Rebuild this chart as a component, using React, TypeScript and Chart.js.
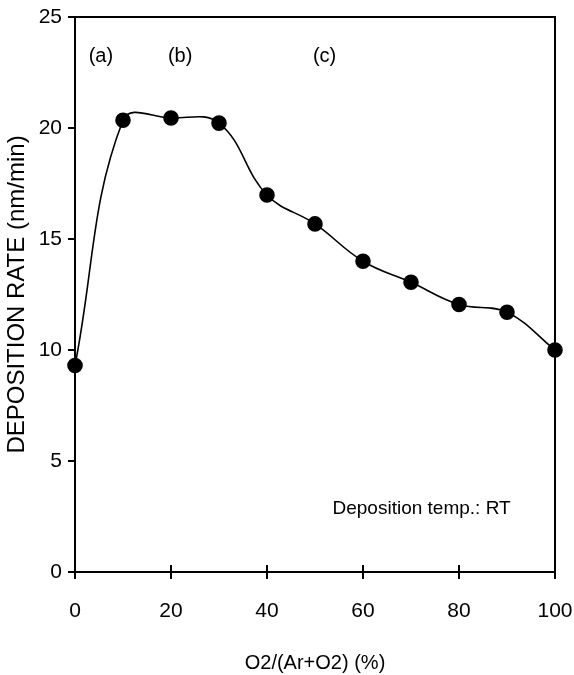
import React, { useEffect, useRef } from "react";
import { Chart, registerables } from "chart.js";

Chart.register(...registerables);

const oxygenRatio = [0, 10, 20, 30, 40, 50, 60, 70, 80, 90, 100];
const depositionRate = [9.3, 20.35, 20.45, 20.22, 16.98, 15.68, 14.0, 13.05, 12.05, 11.7, 10.0];

const xTicks = [0, 20, 40, 60, 80, 100];
const yTicks = [0, 5, 10, 15, 20, 25];

const phaseLabels = ["(a)", "(b)", "(c)"];
const phaseX = [5.4, 21.9, 52];
const phaseY = 23.2;

const noteText = "Deposition temp.: RT";
const noteX = 72.2;
const noteY = 2.84;

const FONT = "'Liberation Sans', Arial, sans-serif";

const framePlugin = {
  id: "frame",
  afterDraw(chart: any) {
    const { ctx, chartArea, scales } = chart;
    const xs = scales.x;
    const ys = scales.y;
    ctx.save();
    ctx.strokeStyle = "#000";
    ctx.lineWidth = 2;
    ctx.beginPath();
    ctx.moveTo(chartArea.left, chartArea.top);
    ctx.lineTo(chartArea.right, chartArea.top);
    ctx.lineTo(chartArea.right, chartArea.bottom);
    ctx.stroke();
    ctx.beginPath();
    xTicks.forEach((v) => {
      const px = xs.getPixelForValue(v);
      ctx.moveTo(px, chartArea.bottom);
      ctx.lineTo(px, chartArea.bottom - 7);
    });
    ctx.stroke();
    ctx.fillStyle = "#000";
    ctx.textAlign = "center";
    ctx.textBaseline = "middle";
    ctx.font = `20px ${FONT}`;
    phaseLabels.forEach((t, i) => {
      ctx.fillText(t, xs.getPixelForValue(phaseX[i]), ys.getPixelForValue(phaseY));
    });
    ctx.font = `19px ${FONT}`;
    ctx.fillText(noteText, xs.getPixelForValue(noteX), ys.getPixelForValue(noteY));
    ctx.restore();
  },
};

export default function App() {
  const ref = useRef<HTMLCanvasElement>(null);
  useEffect(() => {
    document.body.style.margin = "0";
    const canvas = ref.current!;
    const chart = new Chart(canvas, {
      type: "line",
      data: {
        datasets: [
          {
            data: oxygenRatio.map((x, i) => ({ x, y: depositionRate[i] })),
            borderColor: "#000",
            backgroundColor: "#000",
            borderWidth: 1.6,
            pointRadius: 7,
            pointBackgroundColor: "#000",
            pointBorderColor: "#000",
            tension: 0.4,
            clip: false as any,
          },
        ],
      },
      options: {
        animation: false,
        responsive: false,
        devicePixelRatio: 1,
        layout: { padding: { top: 17, right: 19, left: 0, bottom: 0 } },
        plugins: { legend: { display: false }, tooltip: { enabled: false } },
        scales: {
          x: {
            type: "linear",
            min: 0,
            max: 100,
            afterFit: (s: any) => {
              s.height = 103;
              s.paddingLeft = 0;
              s.paddingRight = 0;
            },
            afterBuildTicks: (s: any) => {
              s.ticks = xTicks.map((v) => ({ value: v }));
            },
            ticks: {
              color: "#000",
              font: { family: FONT, size: 21 },
              padding: 20,
              maxRotation: 0,
            },
            grid: {
              drawOnChartArea: false,
              tickLength: 7,
              color: "#000",
              lineWidth: 2,
            },
            border: { display: true, color: "#000", width: 2 },
            title: {
              display: true,
              text: "O2/(Ar+O2) (%)",
              color: "#000",
              font: { family: FONT, size: 20 },
              padding: { top: 0, bottom: 0 },
            },
          },
          y: {
            type: "linear",
            min: 0,
            max: 25,
            afterFit: (s: any) => {
              s.width = 75;
              s.paddingTop = 0;
              s.paddingBottom = 0;
            },
            afterBuildTicks: (s: any) => {
              s.ticks = yTicks.map((v) => ({ value: v }));
            },
            ticks: {
              color: "#000",
              font: { family: FONT, size: 21 },
              padding: 6,
            },
            grid: {
              drawOnChartArea: false,
              tickLength: 7,
              color: "#000",
              lineWidth: 2,
            },
            border: { display: true, color: "#000", width: 2 },
            title: {
              display: true,
              text: "DEPOSITION RATE (nm/min)",
              color: "#000",
              font: { family: FONT, size: 24 },
              padding: { top: 3, bottom: 0 },
            },
          },
        },
      },
      plugins: [framePlugin],
    });
    return () => chart.destroy();
  }, []);
  return <canvas ref={ref} width={574} height={675} style={{ display: "block" }} />;
}
